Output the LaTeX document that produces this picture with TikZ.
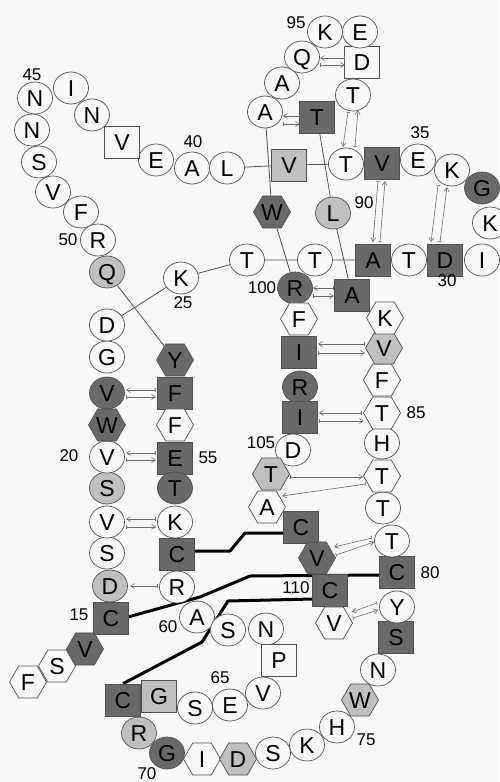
\documentclass[tikz,border=0pt]{standalone}
\usepackage{fontspec}
\setmainfont{Liberation Sans}
\usetikzlibrary{shapes.geometric,arrows.meta,calc}
\pgfdeclarelayer{bg}
\pgfdeclarelayer{edges}
\pgfsetlayers{bg,edges,main}
\definecolor{bgc}{RGB}{248,248,248}
\definecolor{darkf}{RGB}{105,105,105}
\definecolor{lightf}{RGB}{192,192,192}
\definecolor{edgec}{RGB}{80,80,80}
\definecolor{hbc}{RGB}{110,110,110}
\newcommand\rl[1]{\makebox[0pt]{\raisebox{-0.36em}[0pt][0pt]{#1}}}
\tikzset{
  res/.style={draw=edgec, line width=0.7pt, inner sep=0pt, fill=bgc, font=\fontsize{23}{23}\selectfont},
  ci/.style={res, ellipse, minimum width=35pt, minimum height=32pt},
  sq/.style={res, rectangle, minimum width=35pt, minimum height=32pt},
  hx/.style={res, regular polygon, regular polygon sides=6, minimum size=37pt},
  dk/.style={fill=darkf},
  lt/.style={fill=lightf},
  num/.style={inner sep=0pt, font=\fontsize{17}{17}\selectfont},
  bond/.style={draw=edgec, line width=0.8pt},
  ssb/.style={draw=black, line width=3pt, line join=round},
  hb/.style={draw=hbc, line width=0.6pt, arrows={Bar[width=4pt]-Straight Barb[length=4pt,width=5pt]}}
}
\begin{document}
\begin{tikzpicture}[x=1pt,y=-1pt]
\useasboundingbox (0,0) rectangle (499,782);
\begin{pgfonlayer}{bg}
\fill[bgc] (0,0) rectangle (499,782);
\end{pgfonlayer}
% residues
\node[hx] (F12) at (28,682) {\rl{F}};
\node[hx] (S13) at (57,666) {\rl{S}};
\node[hx,dk] (V14) at (85,649) {\rl{V}};
\node[sq,dk] (C15) at (111,618) {\rl{C}};
\node[ci,lt] (D16) at (110,586) {\rl{D}};
\node[ci] (S17) at (107,553) {\rl{S}};
\node[ci] (V18) at (107,522) {\rl{V}};
\node[ci,lt] (S19) at (107,488) {\rl{S}};
\node[ci] (V20) at (107,457) {\rl{V}};
\node[hx,dk] (W21) at (107,425) {\rl{W}};
\node[ci,dk] (V22) at (107,393) {\rl{V}};
\node[ci] (G23) at (107,357) {\rl{G}};
\node[ci] (D24) at (107,325) {\rl{D}};
\node[ci] (K25) at (181,278) {\rl{K}};
\node[ci] (T26) at (247,260) {\rl{T}};
\node[ci] (T27) at (315,260) {\rl{T}};
\node[sq,dk] (A28) at (373,260) {\rl{A}};
\node[ci] (T29) at (409,260) {\rl{T}};
\node[sq,dk] (D30) at (445,260) {\rl{D}};
\node[ci] (I31) at (482,260) {\rl{I}};
\node[ci] (K32) at (490,223) {\rl{K}};
\node[ci,dk] (G33) at (482,188) {\rl{G}};
\node[ci] (K34) at (452,170) {\rl{K}};
\node[ci] (E35) at (418,160) {\rl{E}};
\node[sq,dk] (V36) at (382,163) {\rl{V}};
\node[ci] (T37) at (346,164) {\rl{T}};
\node[sq,lt] (V38) at (289,165) {\rl{V}};
\node[ci] (L39) at (227,168) {\rl{L}};
\node[ci] (A40) at (192,168) {\rl{A}};
\node[ci] (E41) at (156,160) {\rl{E}};
\node[sq] (V42) at (122,142) {\rl{V}};
\node[ci] (N43) at (92,115) {\rl{N}};
\node[ci] (I44) at (71,88) {\rl{I}};
\node[ci] (N45) at (35,98) {\rl{N}};
\node[ci] (N46) at (32,130) {\rl{N}};
\node[ci] (S47) at (39,162) {\rl{S}};
\node[ci] (V48) at (53,192) {\rl{V}};
\node[ci] (F49) at (81,212) {\rl{F}};
\node[ci] (R50) at (98,240) {\rl{R}};
\node[ci,lt] (Q51) at (107,272) {\rl{Q}};
\node[hx,dk] (Y52) at (175,360) {\rl{Y}};
\node[sq,dk] (F53) at (175,393) {\rl{F}};
\node[hx] (F54) at (175,425) {\rl{F}};
\node[sq,dk] (E55) at (175,458) {\rl{E}};
\node[ci,dk] (T56) at (175,488) {\rl{T}};
\node[ci] (K57) at (175,522) {\rl{K}};
\node[sq,dk] (C58) at (177,554) {\rl{C}};
\node[ci] (R59) at (177,587) {\rl{R}};
\node[ci] (A60) at (197,617) {\rl{A}};
\node[ci] (S61) at (228,630) {\rl{S}};
\node[ci] (N62) at (266,629) {\rl{N}};
\node[sq] (P63) at (279,660) {\rl{P}};
\node[ci] (V64) at (263,693) {\rl{V}};
\node[ci] (E65) at (230,705) {\rl{E}};
\node[ci] (S66) at (195,708) {\rl{S}};
\node[sq,lt] (G67) at (159,696) {\rl{G}};
\node[sq,dk] (C68) at (123,700) {\rl{C}};
\node[ci,lt] (R69) at (139,733) {\rl{R}};
\node[ci,dk] (G70) at (167,753) {\rl{G}};
\node[hx] (I71) at (202,759) {\rl{I}};
\node[hx,lt] (D72) at (238,759) {\rl{D}};
\node[ci] (S73) at (273,753) {\rl{S}};
\node[ci] (K74) at (307,745) {\rl{K}};
\node[ci] (H75) at (337,727) {\rl{H}};
\node[hx,lt] (W76) at (360,700) {\rl{W}};
\node[ci] (N77) at (378,670) {\rl{N}};
\node[sq,dk] (S78) at (396,637) {\rl{S}};
\node[ci] (Y79) at (397,607) {\rl{Y}};
\node[sq,dk] (C80) at (397,572) {\rl{C}};
\node[ci] (T81) at (392,541) {\rl{T}};
\node[ci] (T82) at (383,508) {\rl{T}};
\node[hx] (T83) at (382,476) {\rl{T}};
\node[ci] (H84) at (382,443) {\rl{H}};
\node[hx] (T85) at (382,413) {\rl{T}};
\node[hx] (F86) at (382,380) {\rl{F}};
\node[hx,lt] (V87) at (384,348) {\rl{V}};
\node[hx] (K88) at (385,318) {\rl{K}};
\node[sq,dk] (A89) at (352,295) {\rl{A}};
\node[ci,lt] (L90) at (333,213) {\rl{L}};
\node[sq,dk] (T91) at (317,117) {\rl{T}};
\node[ci] (T92) at (353,95) {\rl{T}};
\node[sq] (D93) at (362,62) {\rl{D}};
\node[ci] (E94) at (360,32) {\rl{E}};
\node[ci] (K95) at (325,32) {\rl{K}};
\node[ci] (Q96) at (302,57) {\rl{Q}};
\node[ci] (A97) at (282,83) {\rl{A}};
\node[ci] (A98) at (265,112) {\rl{A}};
\node[hx,dk] (W99) at (272,212) {\rl{W}};
\node[ci,dk] (R100) at (295,288) {\rl{R}};
\node[hx] (F101) at (299,319) {\rl{F}};
\node[sq,dk] (I102) at (299,352) {\rl{I}};
\node[ci,dk] (R103) at (300,387) {\rl{R}};
\node[sq,dk] (I104) at (300,417) {\rl{I}};
\node[ci] (D105) at (293,450) {\rl{D}};
\node[hx,lt] (T106) at (271,474) {\rl{T}};
\node[hx] (A107) at (267,507) {\rl{A}};
\node[sq,dk] (C108) at (301,527) {\rl{C}};
\node[hx,dk] (V109) at (317,558) {\rl{V}};
\node[sq,dk] (C110) at (330,590) {\rl{C}};
\node[hx] (V111) at (334,623) {\rl{V}};
% numbers
\node[num] (n15) at (79,615) {15};
\node[num] (n20) at (69,456) {20};
\node[num] (n25) at (183,303) {25};
\node[num] (n30) at (447,281) {30};
\node[num] (n35) at (420,133) {35};
\node[num] (n40) at (193,142) {40};
\node[num] (n45) at (32,75) {45};
\node[num] (n50) at (68,240) {50};
\node[num] (n55) at (208,458) {55};
\node[num] (n60) at (168,627) {60};
\node[num] (n65) at (220,678) {65};
\node[num] (n70) at (147,774) {70};
\node[num] (n75) at (366,740) {75};
\node[num] (n80) at (430,573) {80};
\node[num] (n85) at (416,413) {85};
\node[num] (n90) at (364,203) {90};
\node[num] (n95) at (296,23) {95};
\node[num] (n100) at (262,288) {100};
\node[num] (n105) at (261,443) {105};
\node[num] (n110) at (296,588) {110};
% connectors
\begin{pgfonlayer}{edges}
\draw[bond] (D24) -- (K25) -- (T26) -- (T27) -- (A28);
\draw[bond] (Q51) -- (Y52);
\draw[bond] (L39) -- (V38) -- (T37);
\draw[bond] (A98) -- (W99) -- (R100);
\draw[bond] (T91) -- (L90) -- (A89);
% disulfide bridges
\draw[ssb] ($(C58)+(17,-3)$) -- (230,551) -- (245,533) -- ($(C108)+(-17,6)$);
\draw[ssb] ($(C80)+(-17,3)$) -- (250,576) -- (200,597) -- ($(C15)+(17,-1)$);
\draw[ssb] ($(C110)+(-17,9)$) -- (228,601) -- (202,642) -- (C68.north);
\end{pgfonlayer}
% hydrogen bonds
\draw[hb] ($(D93)+(-17,-4)$) -- ($(Q96)+(18,1)$);
\draw[hb] ($(Q96)+(18,8)$) -- ($(D93)+(-17,3)$);
\draw[hb] ($(T91)+(-17,-1)$) -- ($(A98)+(18,4)$);
\draw[hb] ($(A98)+(18,12)$) -- ($(T91)+(-17,7)$);
\draw[hb] ($(T92)+(-5,17)$) -- ($(T37)+(-3,-17)$);
\draw[hb] ($(T37)+(9,-17)$) -- ($(T92)+(5,15)$);
\draw[hb] ($(V36)+(-4,18)$) -- ($(A28)+(0,-18)$);
\draw[hb] ($(A28)+(7,-18)$) -- ($(V36)+(3,18)$);
\draw[hb] ($(K34)+(-14,15)$) -- ($(D30)+(-14,-18)$);
\draw[hb] ($(D30)+(-5,-18)$) -- ($(K34)+(-5,17)$);
\draw[hb] ($(A89)+(-18,-7)$) -- ($(R100)+(18,0)$);
\draw[hb] ($(R100)+(18,8)$) -- ($(A89)+(-18,1)$);
\draw[hb] ($(V87)+(-19,-4)$) -- ($(I102)+(19,-8)$);
\draw[hb] ($(I102)+(19,1)$) -- ($(V87)+(-19,5)$);
\draw[hb] ($(T85)+(-20,0)$) -- ($(I104)+(19,-4)$);
\draw[hb] ($(I104)+(19,4)$) -- ($(T85)+(-18,8)$);
\draw[hb] ($(T106)+(19,3)$) -- ($(T83)+(-19,1)$);
\draw[hb] ($(T83)+(-16,8)$) -- ($(A107)+(15,-11)$);
\draw[hb] ($(T81)+(-20,-3)$) -- ($(V109)+(17,-11)$);
\draw[hb] ($(V109)+(19,-3)$) -- ($(T81)+(-18,1)$);
\draw[hb] ($(Y79)+(-20,-4)$) -- ($(V111)+(18,-11)$);
\draw[hb] ($(V111)+(19,-5)$) -- ($(Y79)+(-19,3)$);
\draw[hb] ($(F53)+(-19,-3)$) -- ($(V22)+(19,-3)$);
\draw[hb] ($(V22)+(19,4)$) -- ($(F53)+(-19,4)$);
\draw[hb] ($(E55)+(-19,-5)$) -- ($(V20)+(19,-4)$);
\draw[hb] ($(V20)+(19,3)$) -- ($(E55)+(-19,2)$);
\draw[hb] ($(K57)+(-19,-3)$) -- ($(V18)+(19,-3)$);
\draw[hb] ($(V18)+(19,5)$) -- ($(K57)+(-19,5)$);
\draw[hb] ($(R59)+(-19,-1)$) -- ($(D16)+(20,0)$);
\end{tikzpicture}
\end{document}
